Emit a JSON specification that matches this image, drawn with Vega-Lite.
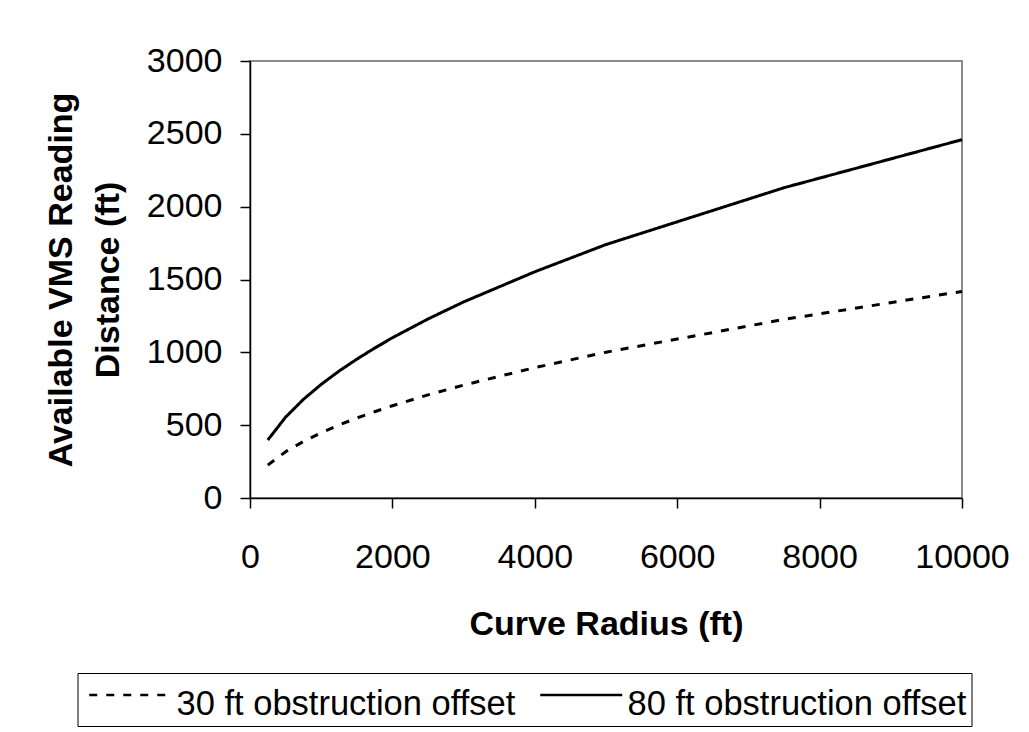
{
  "$schema": "https://vega.github.io/schema/vega-lite/v6.json",
  "width": 712,
  "height": 437,
  "autosize": {"type": "none"},
  "padding": {"left": 250, "top": 61, "right": 67, "bottom": 234},
  "background": "white",
  "config": {
    "view": {"stroke": "#8a8a8a", "strokeWidth": 2},
    "font": "Liberation Sans"
  },
  "data": {
    "values": [
      {"series": "30 ft obstruction offset", "radius": 250, "distance": 226},
      {"series": "30 ft obstruction offset", "radius": 500, "distance": 318},
      {"series": "30 ft obstruction offset", "radius": 750, "distance": 388},
      {"series": "30 ft obstruction offset", "radius": 1000, "distance": 448},
      {"series": "30 ft obstruction offset", "radius": 1250, "distance": 501},
      {"series": "30 ft obstruction offset", "radius": 1500, "distance": 549},
      {"series": "30 ft obstruction offset", "radius": 1750, "distance": 592},
      {"series": "30 ft obstruction offset", "radius": 2000, "distance": 633},
      {"series": "30 ft obstruction offset", "radius": 2500, "distance": 708},
      {"series": "30 ft obstruction offset", "radius": 3000, "distance": 775},
      {"series": "30 ft obstruction offset", "radius": 4000, "distance": 895},
      {"series": "30 ft obstruction offset", "radius": 5000, "distance": 1001},
      {"series": "30 ft obstruction offset", "radius": 7500, "distance": 1226},
      {"series": "30 ft obstruction offset", "radius": 10000, "distance": 1418},
      {"series": "80 ft obstruction offset", "radius": 250, "distance": 398},
      {"series": "80 ft obstruction offset", "radius": 500, "distance": 555},
      {"series": "80 ft obstruction offset", "radius": 750, "distance": 677},
      {"series": "80 ft obstruction offset", "radius": 1000, "distance": 780},
      {"series": "80 ft obstruction offset", "radius": 1250, "distance": 871},
      {"series": "80 ft obstruction offset", "radius": 1500, "distance": 953},
      {"series": "80 ft obstruction offset", "radius": 1750, "distance": 1029},
      {"series": "80 ft obstruction offset", "radius": 2000, "distance": 1100},
      {"series": "80 ft obstruction offset", "radius": 2500, "distance": 1229},
      {"series": "80 ft obstruction offset", "radius": 3000, "distance": 1346},
      {"series": "80 ft obstruction offset", "radius": 4000, "distance": 1553},
      {"series": "80 ft obstruction offset", "radius": 5000, "distance": 1740},
      {"series": "80 ft obstruction offset", "radius": 7500, "distance": 2130},
      {"series": "80 ft obstruction offset", "radius": 10000, "distance": 2460}
    ]
  },
  "mark": {"type": "line", "color": "black", "strokeWidth": 3},
  "encoding": {
    "x": {
      "field": "radius",
      "type": "quantitative",
      "scale": {"domain": [0, 10000], "nice": false},
      "axis": {
        "title": "Curve Radius (ft)",
        "values": [0, 2000, 4000, 6000, 8000, 10000],
        "format": "d",
        "grid": false,
        "labelFont": "Liberation Sans",
        "labelFontSize": 34,
        "labelColor": "black",
        "labelPadding": 32,
        "labelFlush": false,
        "labelOverlap": false,
        "tickSize": 10,
        "tickColor": "black",
        "tickWidth": 1.5,
        "domainColor": "black",
        "domainWidth": 1.5,
        "titleFont": "Liberation Sans",
        "titleFontSize": 34,
        "titleFontWeight": "bold",
        "titleColor": "black",
        "titleY": 136,
        "titleBaseline": "alphabetic"
      }
    },
    "y": {
      "field": "distance",
      "type": "quantitative",
      "scale": {"domain": [0, 3000], "nice": false},
      "axis": {
        "title": ["Available VMS Reading", "Distance (ft)"],
        "values": [0, 500, 1000, 1500, 2000, 2500, 3000],
        "format": "d",
        "grid": false,
        "labelFont": "Liberation Sans",
        "labelFontSize": 34,
        "labelColor": "black",
        "labelPadding": 18,
        "labelFlush": false,
        "labelOverlap": false,
        "tickSize": 10,
        "tickColor": "black",
        "tickWidth": 1.5,
        "domainColor": "black",
        "domainWidth": 1.5,
        "titleFont": "Liberation Sans",
        "titleFontSize": 34,
        "titleFontWeight": "bold",
        "titleColor": "black",
        "titleAngle": 270,
        "titleX": -189,
        "titleY": 218.5,
        "titleBaseline": "middle",
        "titleLineHeight": 47
      }
    },
    "strokeDash": {
      "field": "series",
      "type": "nominal",
      "scale": {
        "domain": ["30 ft obstruction offset", "80 ft obstruction offset"],
        "range": [[8, 9], [1, 0]]
      },
      "legend": {
        "title": null,
        "orient": "none",
        "legendX": -172.5,
        "legendY": 612,
        "direction": "horizontal",
        "symbolType": "M-1,0H7.2",
        "symbolSize": 400,
        "symbolStrokeWidth": 2.5,
        "symbolStrokeColor": "black",
        "symbolFillColor": "transparent",
        "labelFont": "Liberation Sans",
        "labelFontSize": 34.5,
        "labelColor": "black",
        "labelOffset": 60,
        "labelLimit": 500,
        "columnPadding": 17,
        "padding": 4.5,
        "strokeColor": "black",
        "fillColor": "white",
        "encode": {"labels": {"update": {"dy": {"value": 10}}}}
      }
    }
  }
}
